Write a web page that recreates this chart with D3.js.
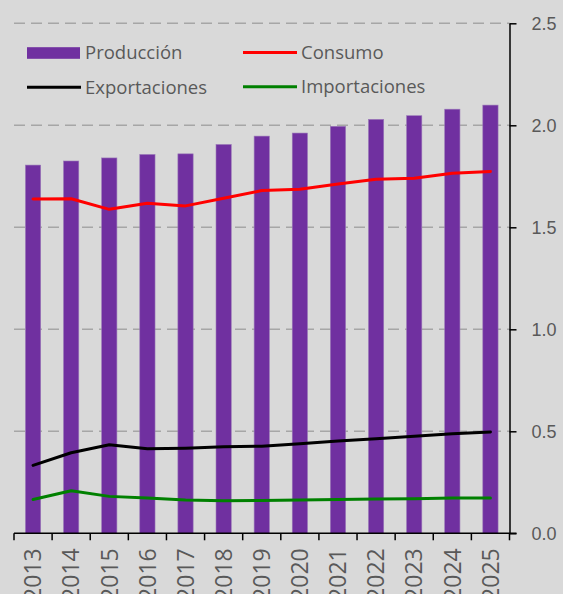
<!DOCTYPE html>
<html>
<head>
<meta charset="utf-8">
<script src="https://cdn.jsdelivr.net/npm/d3@7"></script>
<style>
  body { margin: 0; background: #d9d9d9; }
  svg { display: block; font-family: "Open Sans", sans-serif; }
  .axis text { fill: #595959; }
</style>
</head>
<body>
<svg width="563" height="594"></svg>
<script>
// values
const years = ["2013", "2014", "2015", "2016", "2017", "2018", "2019", "2020", "2021", "2022", "2023", "2024", "2025"];
const produccion = [1.805, 1.825, 1.84, 1.857, 1.86, 1.906, 1.947, 1.962, 1.995, 2.029, 2.047, 2.079, 2.099];
const consumo = [1.639, 1.64, 1.588, 1.618, 1.605, 1.642, 1.68, 1.686, 1.712, 1.735, 1.74, 1.765, 1.774];
const exportaciones = [0.333, 0.395, 0.434, 0.414, 0.417, 0.424, 0.427, 0.439, 0.452, 0.463, 0.476, 0.488, 0.497];
const importaciones = [0.166, 0.209, 0.181, 0.173, 0.163, 0.16, 0.161, 0.163, 0.166, 0.168, 0.169, 0.173, 0.173];
const yTicks = [0, 0.5, 1.0, 1.5, 2.0, 2.5];

const svg = d3.select("svg");
const plot = {left: 14, right: 509.5, top: 23.3, bottom: 533.3};

const x = d3.scaleBand().domain(years).range([plot.left, plot.right])
  .paddingInner(0.6).paddingOuter(0.3);
const y = d3.scaleLinear().domain([0, 2.5]).range([plot.bottom, plot.top]);

svg.append("rect").attr("width", 563).attr("height", 594).attr("fill", "#d9d9d9");

// dashed gridlines
svg.append("g")
  .selectAll("line")
  .data(yTicks.filter(d => d > 0))
  .enter().append("line")
  .attr("x1", plot.left).attr("x2", plot.right)
  .attr("y1", d => y(d)).attr("y2", d => y(d))
  .attr("stroke", "#a6a6a6")
  .attr("stroke-width", 1.5)
  .attr("stroke-dasharray", "11,6");

// bars
svg.append("g")
  .selectAll("rect")
  .data(produccion)
  .enter().append("rect")
  .attr("x", (d, i) => x(years[i]))
  .attr("y", d => y(d))
  .attr("width", x.bandwidth())
  .attr("height", d => plot.bottom - y(d))
  .attr("fill", "#7030a0")
  .attr("stroke", "#9a78b8")
  .attr("stroke-width", 0.6);

const line = d3.line()
  .x((d, i) => x(years[i]) + x.bandwidth() / 2)
  .y(d => y(d));

const series = [
  {name: "Consumo", values: consumo, color: "#ff0000"},
  {name: "Exportaciones", values: exportaciones, color: "#000000"},
  {name: "Importaciones", values: importaciones, color: "#008000"}
];

series.forEach(s => {
  svg.append("path")
    .datum(s.values)
    .attr("d", line)
    .attr("fill", "none")
    .attr("stroke", s.color)
    .attr("stroke-width", 3)
    .attr("stroke-linejoin", "round")
    .attr("stroke-linecap", "round");
});

// right y axis
const yAxis = svg.append("g")
  .attr("class", "axis")
  .attr("transform", `translate(${plot.right},0)`)
  .call(d3.axisRight(y).tickValues(yTicks).tickFormat(d3.format(".1f"))
    .tickSize(7).tickPadding(15).tickSizeOuter(0));
yAxis.select(".domain").attr("stroke", "#000").attr("stroke-width", 1.5);
yAxis.selectAll(".tick line").attr("stroke", "#000").attr("stroke-width", 1.5);
yAxis.selectAll("text").style("font-size", "18px");

// bottom x axis: ticks between categories
const xAxis = svg.append("g").attr("class", "axis");
xAxis.append("line")
  .attr("x1", plot.left).attr("x2", plot.right + 7)
  .attr("y1", plot.bottom).attr("y2", plot.bottom)
  .attr("stroke", "#000").attr("stroke-width", 1.5);
xAxis.selectAll(".xtick")
  .data(d3.range(years.length + 1))
  .enter().append("line")
  .attr("class", "xtick")
  .attr("x1", i => plot.left + i * x.step()).attr("x2", i => plot.left + i * x.step())
  .attr("y1", plot.bottom).attr("y2", plot.bottom + 7)
  .attr("stroke", "#000").attr("stroke-width", 1.5);
xAxis.selectAll(".xlabel")
  .data(years)
  .enter().append("text")
  .attr("class", "xlabel")
  .attr("transform", d => `translate(${x(d) + x.bandwidth() / 2},${plot.bottom + 15}) rotate(-90)`)
  .attr("dy", "0.36em")
  .attr("text-anchor", "end")
  .style("font-size", "23px")
  .text(d => d);

// legend
const legend = svg.append("g").attr("class", "axis");
const items = [
  {name: "Producción", color: "#7030a0", bar: true, lx: 27, ly: 53},
  {name: "Consumo", color: "#ff0000", lx: 243, ly: 52.5},
  {name: "Exportaciones", color: "#000000", lx: 27, ly: 87.3},
  {name: "Importaciones", color: "#008000", lx: 243, ly: 86.8}
];
items.forEach(it => {
  if (it.bar) {
    legend.append("rect")
      .attr("x", it.lx).attr("y", it.ly - 5.8)
      .attr("width", 53).attr("height", 11.6)
      .attr("fill", it.color);
  } else {
    legend.append("line")
      .attr("x1", it.lx).attr("x2", it.lx + 54)
      .attr("y1", it.ly).attr("y2", it.ly)
      .attr("stroke", it.color).attr("stroke-width", 3);
  }
  legend.append("text")
    .attr("x", it.lx + 58)
    .attr("y", it.ly)
    .attr("dy", "0.35em")
    .style("font-size", "18.5px")
    .text(it.name);
});
</script>
</body>
</html>
